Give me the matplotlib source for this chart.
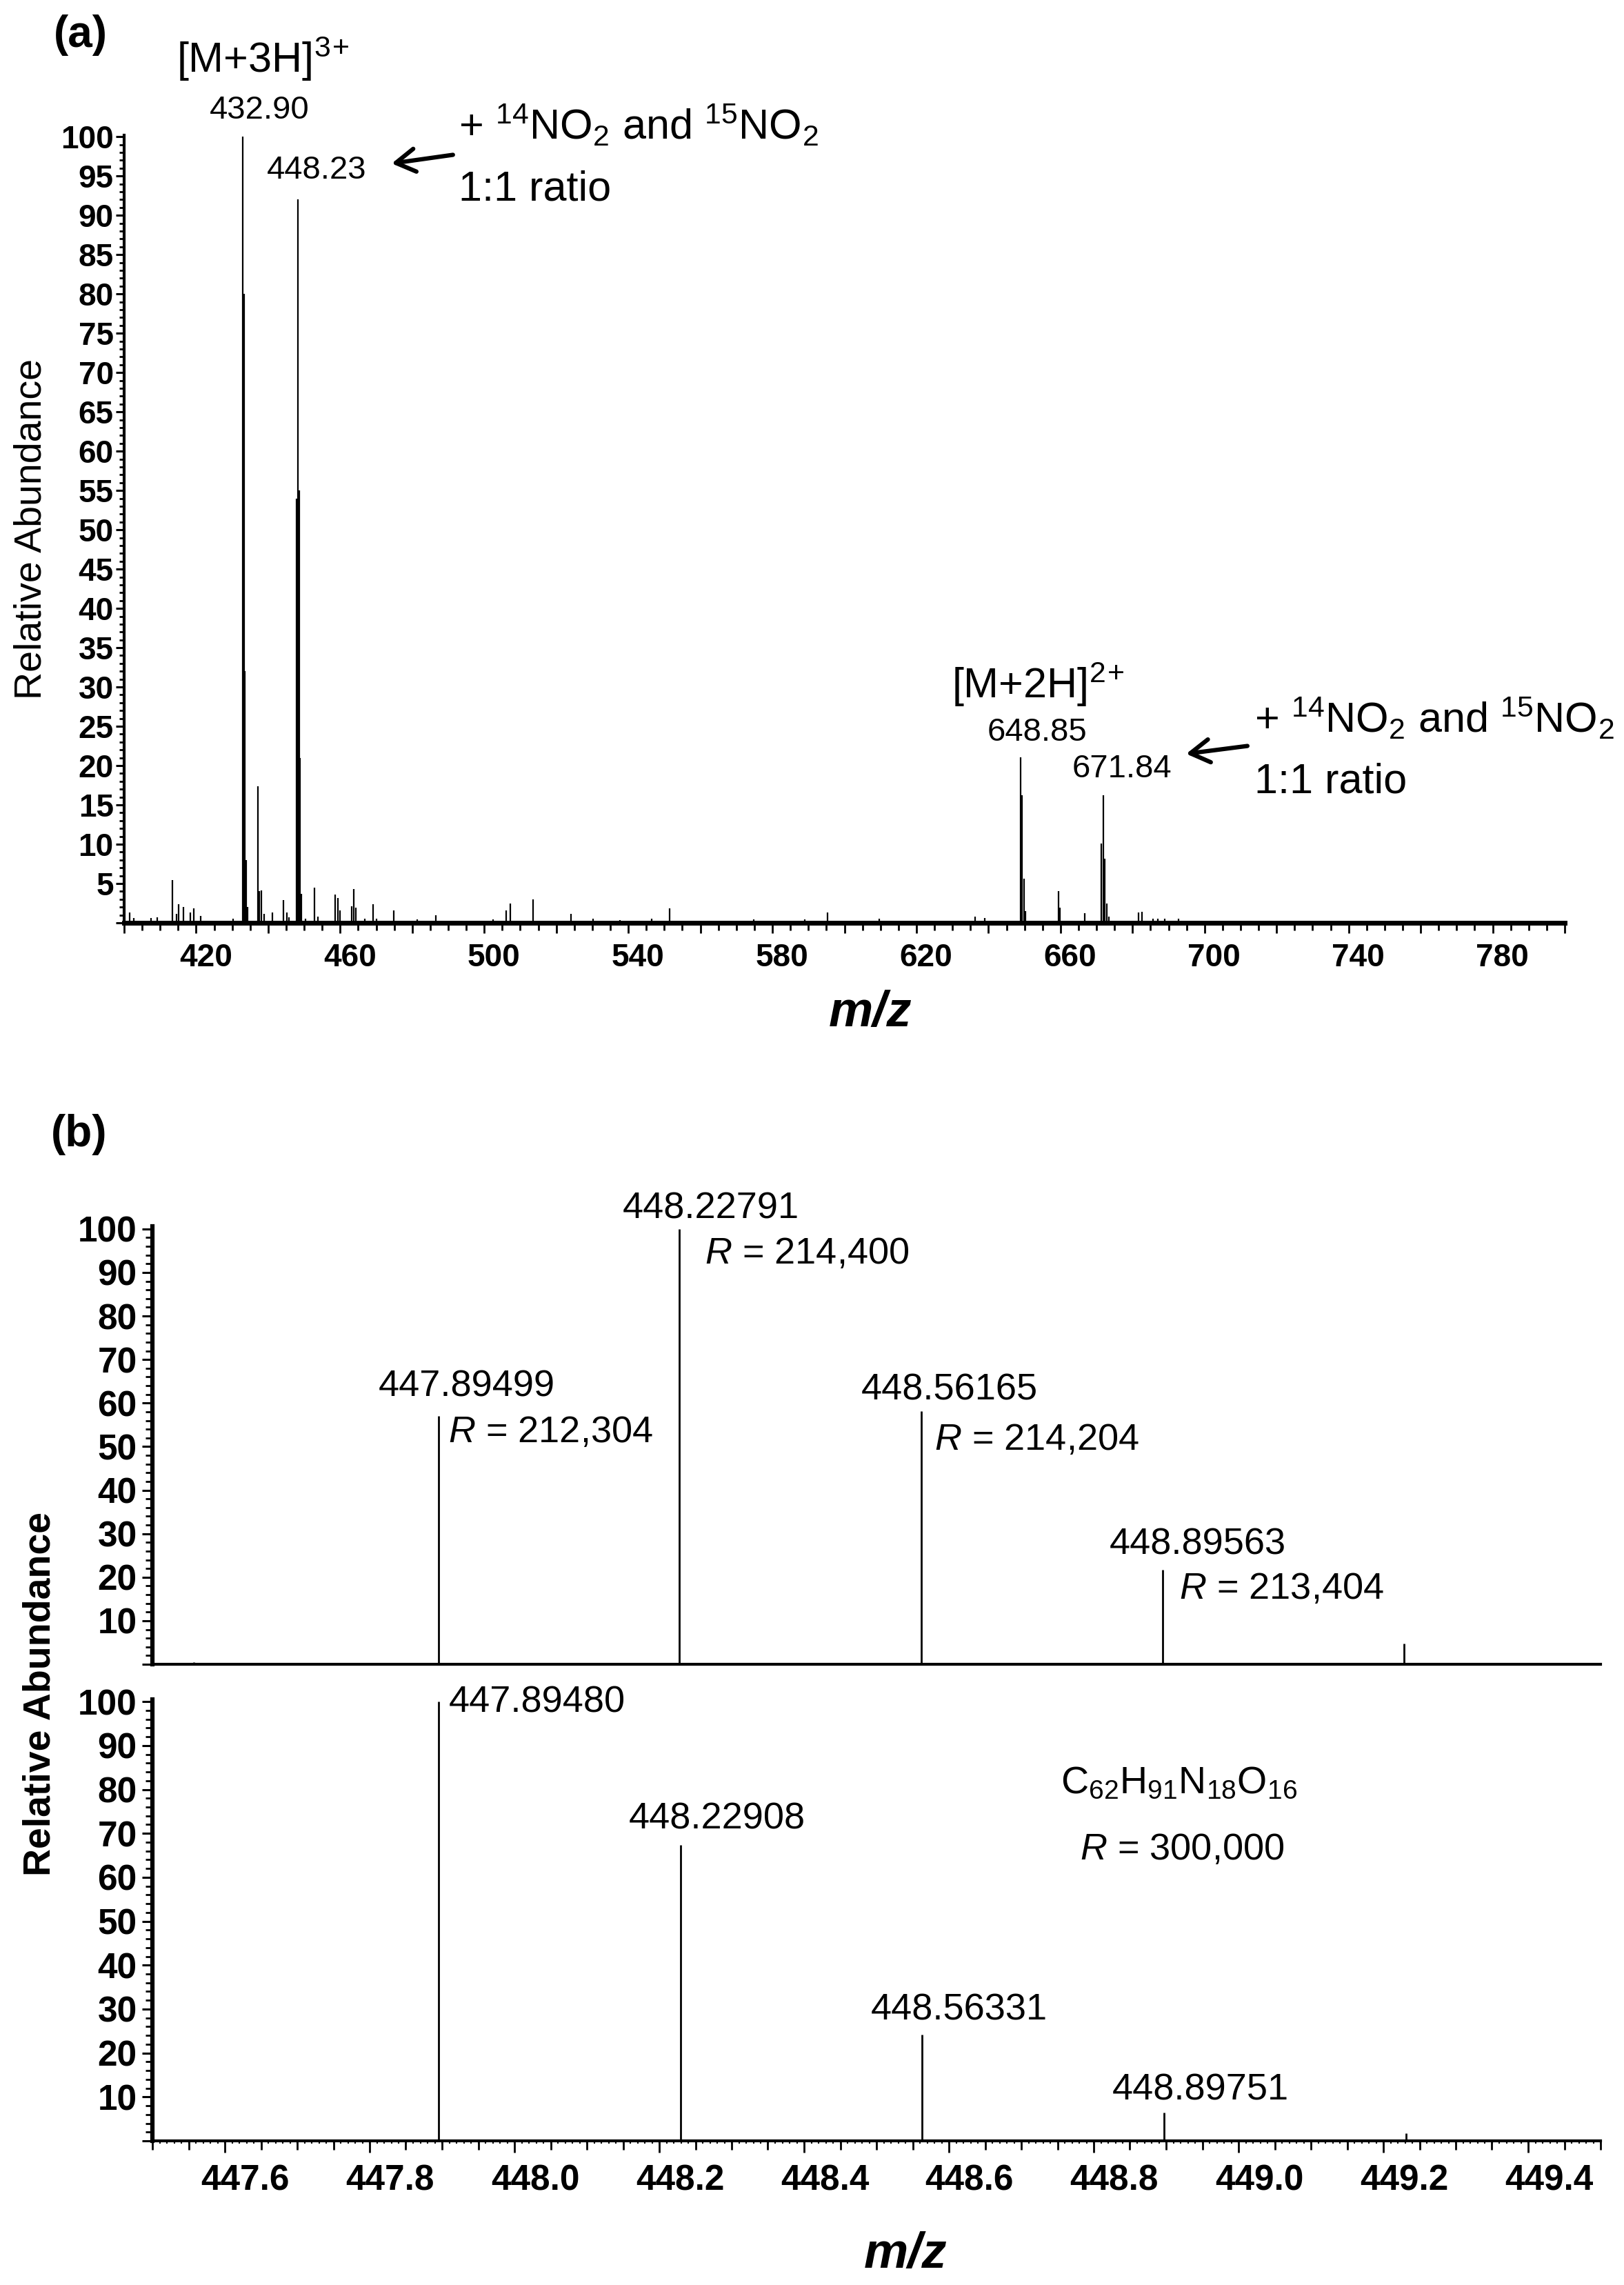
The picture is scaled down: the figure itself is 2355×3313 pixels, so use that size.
import matplotlib
matplotlib.use("Agg")
import matplotlib.pyplot as plt
from matplotlib.ticker import MultipleLocator, FuncFormatter
from matplotlib.transforms import ScaledTranslation

# ---- panel (a): full scan spectrum ----
scan_mz = [401.6, 402.7, 407.4, 409.2, 413.4, 414.5, 415.2, 416.5, 418.3, 419.4,
           421.3, 430.3,
           432.90, 433.23, 433.57, 433.90, 434.24,
           437.2, 437.6, 438.2, 438.8, 441.1, 444.2, 445.2, 445.8,
           447.89, 448.23, 448.56, 448.90, 449.23,
           450.3, 452.9, 453.9, 458.6, 459.4, 459.9, 463.1, 463.7, 464.3,
           466.9, 469.1, 470.1, 474.8, 481.4, 486.5, 502.4, 506.0, 507.3,
           513.5, 524.0, 530.3, 537.6, 546.5, 551.4, 574.9, 589.0, 595.4,
           609.7, 636.2, 639.0,
           648.85, 649.35, 649.85, 650.35,
           659.4, 659.9, 666.8,
           671.34, 671.84, 672.34, 672.84, 673.34,
           681.6, 682.6, 685.7, 687.0, 689.0, 692.8]
scan_int = [1.3, 0.6, 0.6, 0.7, 5.4, 1.1, 2.4, 2.0, 1.3, 1.8,
            0.9, 0.5,
            100, 80, 32, 8, 2,
            17.4, 4.0, 4.1, 1.1, 1.3, 2.9, 1.3, 0.7,
            54, 92, 55, 21, 3.7,
            0.5, 4.5, 0.8, 3.6, 3.2, 1.6, 2.1, 4.3, 1.9,
            0.5, 2.4, 0.5, 1.6, 0.45, 1.0, 0.4, 1.6, 2.5,
            3.0, 1.1, 0.5, 0.35, 0.5, 1.8, 0.45, 0.45, 1.3,
            0.5, 0.8, 0.6,
            21.1, 16.2, 5.6, 1.5,
            4.0, 1.9, 1.2,
            10.1, 16.2, 8.2, 2.5, 0.8,
            1.3, 1.4, 0.5, 0.5, 0.5, 0.5]

# ---- panel (b): isotope cluster, experimental and theoretical ----
exp_mz = [447.557, 447.89499, 448.22791, 448.56165, 448.89563, 449.229, 449.36]
exp_int = [0.5, 57.1, 100, 58.2, 21.7, 4.7, 0.3]
exp_res = ["212,304", "214,400", "214,204", "213,404"]

theo_mz = [447.89480, 448.22908, 448.56331, 448.89751, 449.2316]
theo_int = [100, 67.3, 24.2, 6.4, 1.7]

W, H = 2355, 3313
DPI = 100

plt.rcParams['font.family'] = ['Liberation Sans', 'DejaVu Sans']
plt.rcParams['mathtext.fontset'] = 'custom'
plt.rcParams['mathtext.rm'] = 'Liberation Sans'
plt.rcParams['mathtext.it'] = 'Liberation Sans:italic'
plt.rcParams['mathtext.bf'] = 'Liberation Sans:bold'

fig = plt.figure(figsize=(W / DPI, H / DPI), dpi=DPI)


def rect(x0, x1, y_top, y_bot):
    return [x0 / W, 1 - y_bot / H, (x1 - x0) / W, (y_bot - y_top) / H]


def style_axes(ax, spine_l, spine_b):
    for s in ['top', 'right']:
        ax.spines[s].set_visible(False)
    ax.spines['left'].set_linewidth(spine_l)
    ax.spines['bottom'].set_linewidth(spine_b)


def shift_xlabels(ax, dx_px):
    off = ScaledTranslation(dx_px / DPI, 0, fig.dpi_scale_trans)
    for lab in ax.get_xticklabels():
        lab.set_transform(lab.get_transform() + off)


# ================= panel (a) =================
ax_a = fig.add_axes(rect(180, 2269, 196, 1338))
ax_a.vlines(scan_mz, 0, scan_int, color='black', lw=1.6)
ax_a.set_xlim(400, 800)
ax_a.set_ylim(0, 100.2)
style_axes(ax_a, 3, 5)

ax_a.xaxis.set_major_locator(MultipleLocator(20))
ax_a.xaxis.set_minor_locator(MultipleLocator(5))
ax_a.xaxis.set_major_formatter(FuncFormatter(
    lambda v, p: '%d' % v if round(v) % 40 == 20 else ''))
ax_a.yaxis.set_major_locator(MultipleLocator(5))
ax_a.yaxis.set_minor_locator(MultipleLocator(1))
ax_a.yaxis.set_major_formatter(FuncFormatter(lambda v, p: '' if v < 1 else '%d' % v))
ax_a.tick_params(axis='x', which='major', length=11, width=2, pad=10, labelsize=33)
ax_a.tick_params(axis='x', which='minor', length=8, width=2)
ax_a.tick_params(axis='y', which='major', length=9, width=2.2, pad=2, labelsize=33)
ax_a.tick_params(axis='y', which='minor', length=5, width=2)
for lab in ax_a.get_xticklabels() + ax_a.get_yticklabels():
    lab.set_fontweight('bold')

ax_a.set_ylabel('Relative Abundance', fontsize=40)
ax_a.yaxis.set_label_coords(-0.052, 0.5)
ax_a.set_xlabel('m/z', fontsize=52, fontweight='bold', fontstyle='italic')
ax_a.xaxis.set_label_coords(0.518, -0.085)

ann = 44
num = 34
arrow_kw = dict(arrowstyle='->,head_length=0.5,head_width=0.3', lw=4.5,
                color='black', mutation_scale=40, shrinkA=0, shrinkB=0)

ax_a.text(414.6, 108.2, r'[M+3H]$^{3}$$^{+}$', fontsize=ann, ha='left', va='baseline', clip_on=False)
ax_a.text(437.5, 102.3, '432.90', fontsize=num, ha='center', va='baseline', clip_on=False)
ax_a.text(453.4, 94.7, '448.23', fontsize=num, ha='center', va='baseline')
ax_a.text(492.9, 99.6, r'+ $^{14}$NO$_{2}$ and $^{15}$NO$_{2}$', fontsize=ann,
          ha='left', va='baseline', clip_on=False)
ax_a.text(492.9, 91.9, '1:1 ratio', fontsize=ann, ha='left', va='baseline')
ax_a.annotate('', xy=(474.3, 96.6), xytext=(491.3, 97.7), arrowprops=arrow_kw)

ax_a.text(629.7, 28.6, r'[M+2H]$^{2}$$^{+}$', fontsize=ann, ha='left', va='baseline')
ax_a.text(653.5, 23.2, '648.85', fontsize=num, ha='center', va='baseline')
ax_a.text(677.0, 18.5, '671.84', fontsize=num, ha='center', va='baseline')
ax_a.text(713.9, 24.2, r'+ $^{14}$NO$_{2}$ and $^{15}$NO$_{2}$', fontsize=ann,
          ha='left', va='baseline', clip_on=False)
ax_a.text(713.9, 16.5, '1:1 ratio', fontsize=ann, ha='left', va='baseline')
ax_a.annotate('', xy=(694.9, 21.5), xytext=(711.9, 22.5), arrowprops=arrow_kw)

fig.text(78 / W, 1 - 68 / H, '(a)', fontsize=46, fontweight='bold', ha='left', va='baseline')
fig.text(74 / W, 1 - 1662 / H, '(b)', fontsize=46, fontweight='bold', ha='left', va='baseline')

# ================= panel (b) =================
ax_b1 = fig.add_axes(rect(221, 2321, 1778, 2413))
ax_b2 = fig.add_axes(rect(221, 2321, 2464, 3104))

ax_b1.vlines(exp_mz, 0, exp_int, color='black', lw=2)
ax_b2.vlines(theo_mz, 0, theo_int, color='black', lw=2)

for ax, top in [(ax_b1, 100.6), (ax_b2, 100.5)]:
    ax.set_xlim(447.5, 449.5)
    ax.set_ylim(0, top)
    style_axes(ax, 4.5, 3)
    ax.yaxis.set_major_locator(MultipleLocator(10))
    ax.yaxis.set_minor_locator(MultipleLocator(2))
    ax.yaxis.set_major_formatter(FuncFormatter(lambda v, p: '' if v < 1 else '%d' % v))
    ax.tick_params(axis='y', which='major', length=11, width=2.2, pad=5, labelsize=37)
    ax.tick_params(axis='y', which='minor', length=7, width=2)
    for lab in ax.get_yticklabels():
        lab.set_fontweight('bold')

ax_b1.tick_params(axis='x', which='both', bottom=False, labelbottom=False)

ax_b2.xaxis.set_major_locator(MultipleLocator(0.2))
ax_b2.xaxis.set_minor_locator(MultipleLocator(0.05))
ax_b2.xaxis.set_major_formatter(FuncFormatter(lambda v, p: '%.1f' % v))
ax_b2.tick_params(axis='x', which='major', length=12, width=2, pad=12, labelsize=37)
ax_b2.tick_params(axis='x', which='minor', length=9, width=2)
for lab in ax_b2.get_xticklabels():
    lab.set_fontweight('bold')
fine = ax_b2.secondary_xaxis('bottom')
fine.xaxis.set_major_locator(MultipleLocator(0.01))
fine.tick_params(axis='x', length=3, width=1.5, labelbottom=False)
fine.spines['bottom'].set_visible(False)

ax_b2.set_xlabel('m/z', fontsize=52, fontweight='bold', fontstyle='italic')
ax_b2.xaxis.set_label_coords(0.52, -0.205)
fig.text(59 / W, 1 - 2456 / H, 'Relative Abundance', fontsize=40, fontweight='bold',
         rotation=90, ha='center', va='center')

lab = 39
# experimental labels
ax_b1.text(447.934, 61.6, '447.89499', fontsize=lab, ha='center', va='baseline')
ax_b1.text(447.909, 51.0, '$R$ = ' + exp_res[0], fontsize=lab, ha='left', va='baseline')
ax_b1.text(448.271, 102.4, '448.22791', fontsize=lab, ha='center', va='baseline', clip_on=False)
ax_b1.text(448.263, 92.1, '$R$ = ' + exp_res[1], fontsize=lab, ha='left', va='baseline')
ax_b1.text(448.601, 60.7, '448.56165', fontsize=lab, ha='center', va='baseline')
ax_b1.text(448.580, 49.3, '$R$ = ' + exp_res[2], fontsize=lab, ha='left', va='baseline')
ax_b1.text(448.944, 25.2, '448.89563', fontsize=lab, ha='center', va='baseline')
ax_b1.text(448.918, 15.1, '$R$ = ' + exp_res[3], fontsize=lab, ha='left', va='baseline')

# theoretical labels
ax_b2.text(447.909, 97.6, '447.89480', fontsize=lab, ha='left', va='baseline')
ax_b2.text(448.280, 71.1, '448.22908', fontsize=lab, ha='center', va='baseline')
ax_b2.text(448.614, 27.6, '448.56331', fontsize=lab, ha='center', va='baseline')
ax_b2.text(448.947, 9.4, '448.89751', fontsize=lab, ha='center', va='baseline')
ax_b2.text(448.918, 79.1, r'C$_{62}$H$_{91}$N$_{18}$O$_{16}$', fontsize=40, ha='center', va='baseline')
ax_b2.text(448.922, 64.1, '$R$ = 300,000', fontsize=lab, ha='center', va='baseline')

shift_xlabels(ax_a, 14)
shift_xlabels(ax_b2, 30)

fig.savefig('out.png', dpi=DPI)
